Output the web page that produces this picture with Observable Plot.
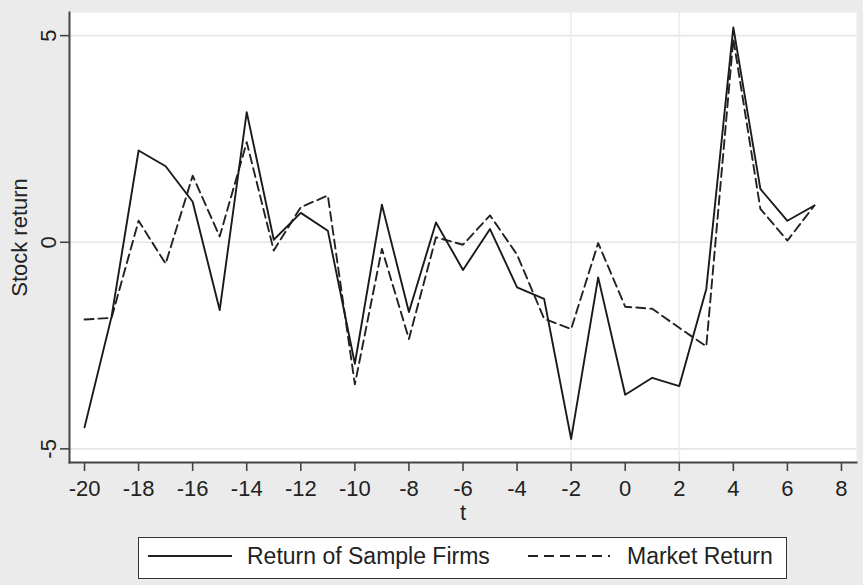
<!DOCTYPE html>
<html>
<head>
<meta charset="utf-8">
<script src="https://cdn.jsdelivr.net/npm/d3@7"></script>
<script src="https://cdn.jsdelivr.net/npm/@observablehq/plot@0.6"></script>
<style>
  html, body { margin: 0; padding: 0; background: #ebebeb; }
  body { width: 863px; height: 585px; position: relative; overflow: hidden; font-family: "Liberation Sans", Arial, sans-serif; }
  #chart { position: absolute; left: 0; top: 0; }
  #legend { position: absolute; left: 138px; top: 537px; width: 647px; height: 40px; border: 1.5px solid #333; background: #fff; }
  #legend svg { position: absolute; left: 0; top: 0; }
</style>
</head>
<body>
<div id="chart"></div>
<div id="legend"></div>
<script>
const t = [-20,-19,-18,-17,-16,-15,-14,-13,-12,-11,-10,-9,-8,-7,-6,-5,-4,-3,-2,-1,0,1,2,3,4,5,6,7];
const sampleFirms = [-4.48,-1.8,2.22,1.84,0.98,-1.64,3.15,0.06,0.71,0.28,-2.94,0.91,-1.69,0.48,-0.67,0.32,-1.09,-1.37,-4.76,-0.85,-3.69,-3.28,-3.48,-1.13,5.20,1.29,0.52,0.89];
const marketReturn = [-1.87,-1.83,0.52,-0.52,1.61,0.14,2.42,-0.2,0.85,1.13,-3.44,-0.16,-2.34,0.12,-0.06,0.65,-0.3,-1.85,-2.1,-0.02,-1.56,-1.61,-2.07,-2.52,4.92,0.81,0.04,0.89];
const xTicks = [-20,-18,-16,-14,-12,-10,-8,-6,-4,-2,0,2,4,6,8];
const yTicks = [-5,0,5];
const eventLines = [-2,2];
const seriesNames = ["Return of Sample Firms","Market Return"];

const data = t.map((v,i) => ({t: v, firm: sampleFirms[i], market: marketReturn[i]}));
const fmt = d => d < 0 ? "-" + Math.abs(d) : String(d);

const chart = Plot.plot({
  width: 863,
  height: 530,
  marginLeft: 69,
  marginRight: 7,
  marginTop: 12,
  marginBottom: 68,
  style: {fontFamily: "Liberation Sans, Arial, sans-serif", fontSize: "22px", background: "transparent", color: "#222"},
  x: {domain: [-20.556, 8.556]},
  y: {domain: [-5.33, 5.56]},
  marks: [
    Plot.frame({fill: "white", stroke: "none"}),
    Plot.ruleY(yTicks, {stroke: "#e6e6e6", strokeWidth: 1.6}),
    Plot.ruleX(eventLines, {stroke: "#ececec", strokeWidth: 1.6}),
    Plot.frame({anchor: "left", stroke: "#444", strokeWidth: 2}),
    Plot.frame({anchor: "bottom", stroke: "#444", strokeWidth: 2}),
    Plot.axisX({ticks: xTicks, tickSize: 9, tickPadding: 9, label: null, fontSize: 22, stroke: "#444", strokeWidth: 1.6, tickFormat: fmt}),
    Plot.axisY({ticks: yTicks, tickSize: 9, tickPadding: 5, tickRotate: -90, label: null, fontSize: 22, stroke: "#444", strokeWidth: 1.6, tickFormat: fmt}),
    Plot.text(["Stock return"], {frameAnchor: "left", dx: -50, rotate: -90, textAnchor: "middle", fontSize: 22, fill: "#222"}),
    Plot.text(["t"], {frameAnchor: "bottom", dy: 57, fontSize: 22, fill: "#222"}),
    Plot.line(data, {x: "t", y: "market", stroke: "#222", strokeWidth: 1.9, strokeDasharray: "9,5"}),
    Plot.line(data, {x: "t", y: "firm", stroke: "#1a1a1a", strokeWidth: 1.9})
  ]
});
document.getElementById("chart").appendChild(chart);

// legend
const ns = "http://www.w3.org/2000/svg";
const lg = document.createElementNS(ns, "svg");
lg.setAttribute("width", 647); lg.setAttribute("height", 40);
const items = [
  {name: seriesNames[0], x1: 9, x2: 93, tx: 108, dash: null},
  {name: seriesNames[1], x1: 389, x2: 471, tx: 488, dash: "10,6"}
];
items.forEach(it => {
  const l = document.createElementNS(ns, "line");
  l.setAttribute("x1", it.x1); l.setAttribute("x2", it.x2);
  l.setAttribute("y1", 18); l.setAttribute("y2", 18);
  l.setAttribute("stroke", "#222"); l.setAttribute("stroke-width", 1.9);
  if (it.dash) l.setAttribute("stroke-dasharray", it.dash);
  lg.appendChild(l);
  const tx = document.createElementNS(ns, "text");
  tx.setAttribute("x", it.tx); tx.setAttribute("y", 26);
  tx.setAttribute("font-size", 23);
  tx.setAttribute("font-family", "Liberation Sans, Arial, sans-serif");
  tx.setAttribute("fill", "#222");
  tx.textContent = it.name;
  lg.appendChild(tx);
});
document.getElementById("legend").appendChild(lg);
</script>
</body>
</html>
